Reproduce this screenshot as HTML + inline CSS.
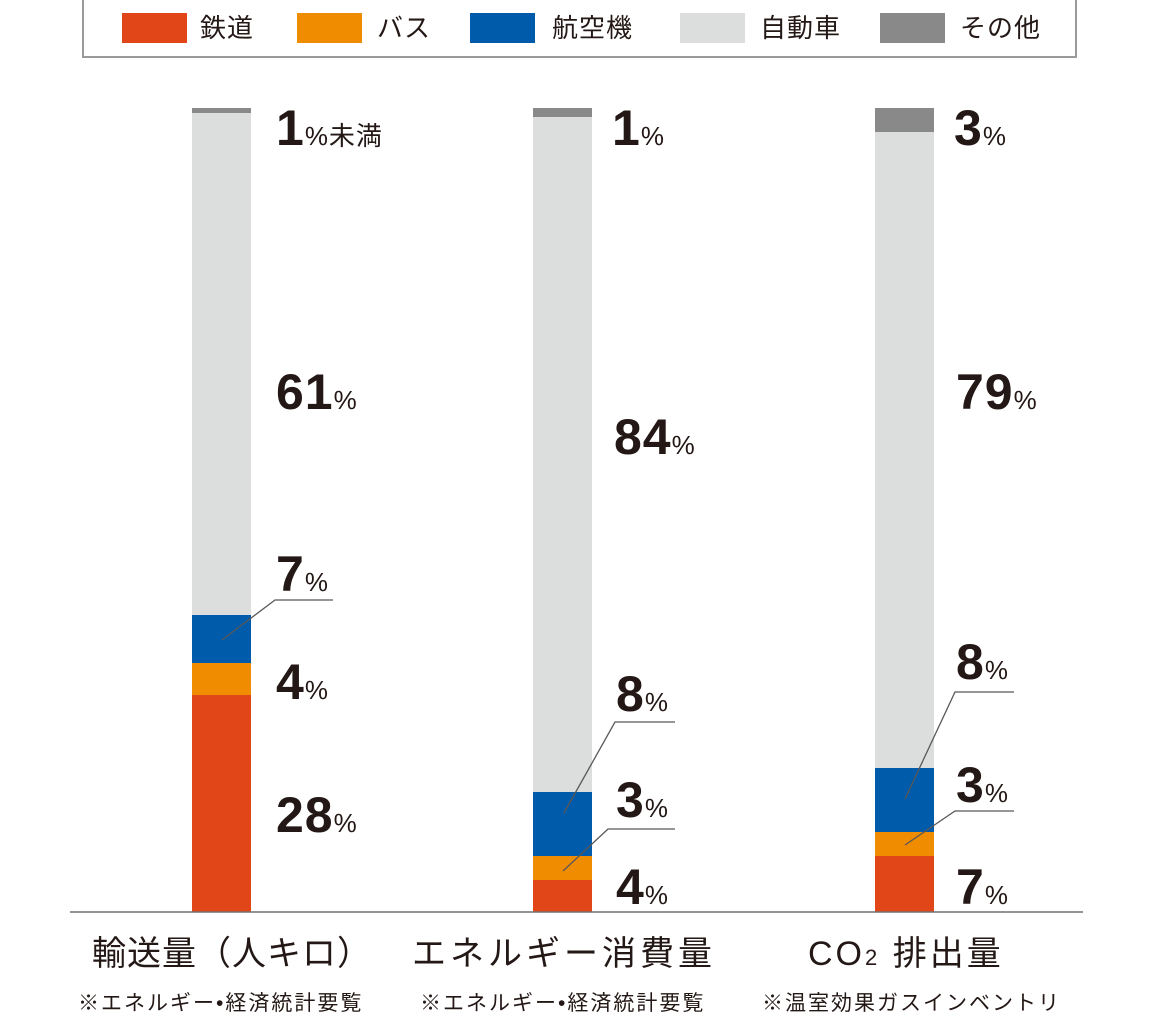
<!DOCTYPE html>
<html><head><meta charset="utf-8"><style>
body{margin:0;background:#fff;width:1160px;height:1018px;overflow:hidden;position:relative;font-family:"Liberation Sans","Noto Sans CJK JP",sans-serif;color:#231815}
.a{position:absolute}
.sw{position:absolute;top:13px;width:65px;height:30px}
.lt{position:absolute;top:11px;font-size:26px;line-height:34px;letter-spacing:1px}
.b{position:absolute;width:59px}
.n{position:absolute;font-size:50px;line-height:50px;font-weight:bold;white-space:nowrap;letter-spacing:1px}
.n span{font-size:26px;font-weight:normal}
.c{position:absolute;font-size:34px;white-space:nowrap;top:926px}
.s{position:absolute;font-size:21px;white-space:nowrap;top:987px;letter-spacing:2px}
</style></head><body>
<div class="a" style="left:82px;top:0;width:991px;height:56px;border:2px solid #9a9a9a;border-top:none"></div>
<div class="sw" style="left:122px;background:#e04618"></div><div class="lt" style="left:200px">鉄道</div>
<div class="sw" style="left:297px;background:#f08c00"></div><div class="lt" style="left:377px">バス</div>
<div class="sw" style="left:470px;background:#005bab"></div><div class="lt" style="left:552px">航空機</div>
<div class="sw" style="left:680px;background:#dcdddd"></div><div class="lt" style="left:760px">自動車</div>
<div class="sw" style="left:880px;background:#898989"></div><div class="lt" style="left:960px">その他</div>

<div class="b" style="left:192px;top:108px;height:5px;background:#898989"></div>
<div class="b" style="left:192px;top:113px;height:502px;background:#dcdddd"></div>
<div class="b" style="left:192px;top:615px;height:48px;background:#005bab"></div>
<div class="b" style="left:192px;top:663px;height:32px;background:#f08c00"></div>
<div class="b" style="left:192px;top:695px;height:217px;background:#e04618"></div>

<div class="b" style="left:533px;top:108px;height:9px;background:#898989"></div>
<div class="b" style="left:533px;top:117px;height:675px;background:#dcdddd"></div>
<div class="b" style="left:533px;top:792px;height:64px;background:#005bab"></div>
<div class="b" style="left:533px;top:856px;height:24px;background:#f08c00"></div>
<div class="b" style="left:533px;top:880px;height:32px;background:#e04618"></div>

<div class="b" style="left:875px;top:108px;height:24px;background:#898989"></div>
<div class="b" style="left:875px;top:132px;height:636px;background:#dcdddd"></div>
<div class="b" style="left:875px;top:768px;height:64px;background:#005bab"></div>
<div class="b" style="left:875px;top:832px;height:24px;background:#f08c00"></div>
<div class="b" style="left:875px;top:856px;height:56px;background:#e04618"></div>

<svg class="a" style="left:0;top:0" width="1160" height="1018">
<g fill="none" stroke="#595757" stroke-width="1.3">
<polyline points="222,640 275,600 333,600"/>
<polyline points="564,813 615,722 675,722"/>
<polyline points="563,871 608,829 675,829"/>
<polyline points="905,799 955,692 1014,692"/>
<polyline points="905,845 955,811 1014,811"/>
</g>
<line x1="70" y1="912" x2="1083" y2="912" stroke="#727171" stroke-width="1.5"/>
</svg>

<div class="n" style="left:276px;top:103px">1<span>%未満</span></div>
<div class="n" style="left:276px;top:367px">61<span>%</span></div>
<div class="n" style="left:276px;top:549px">7<span>%</span></div>
<div class="n" style="left:276px;top:657px">4<span>%</span></div>
<div class="n" style="left:276px;top:790px">28<span>%</span></div>

<div class="n" style="left:612px;top:103px">1<span>%</span></div>
<div class="n" style="left:614px;top:412px">84<span>%</span></div>
<div class="n" style="left:616px;top:669px">8<span>%</span></div>
<div class="n" style="left:616px;top:775px">3<span>%</span></div>
<div class="n" style="left:616px;top:862px">4<span>%</span></div>

<div class="n" style="left:954px;top:103px">3<span>%</span></div>
<div class="n" style="left:956px;top:367px">79<span>%</span></div>
<div class="n" style="left:956px;top:637px">8<span>%</span></div>
<div class="n" style="left:956px;top:760px">3<span>%</span></div>
<div class="n" style="left:956px;top:862px">7<span>%</span></div>

<div class="c" style="left:92px;letter-spacing:1px">輸送量（人キロ）</div>
<div class="c" style="left:412px;letter-spacing:4px">エネルギー消費量</div>
<div class="c" style="left:808px;letter-spacing:3px">CO<span style="font-size:22px">2</span> 排出量</div>
<div class="s" style="left:78px">※エネルギー•経済統計要覧</div>
<div class="s" style="left:420px">※エネルギー•経済統計要覧</div>
<div class="s" style="left:762px">※温室効果ガスインベントリ</div>
</body></html>
